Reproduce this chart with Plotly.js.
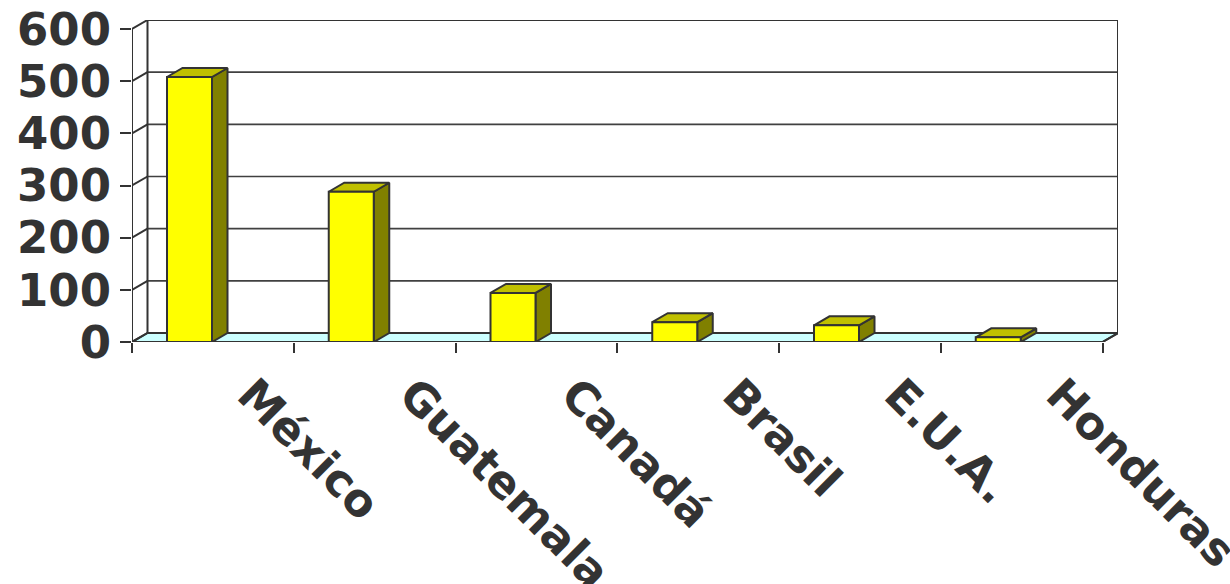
<!DOCTYPE html>
<html>
<head>
<meta charset="utf-8">
<script src="https://cdn.plot.ly/plotly-3.0.1.min.js"></script>
<style>
  html, body { margin: 0; padding: 0; background: #ffffff; }
  #chart { width: 1230px; height: 584px; }
</style>
</head>
<body>
<div id="chart"></div>
<script>
// ---- data ----
const categories = ['México', 'Guatemala', 'Canadá', 'Brasil', 'E.U.A.', 'Honduras'];
const values = [508, 288, 94, 38, 32, 9];
const yTickValues = [0, 100, 200, 300, 400, 500, 600];
const yTickLabels = ['0', '100', '200', '300', '400', '500', '600'];

// ---- layout geometry (pixels) ----
const WIDTH = 1230, HEIGHT = 584;
const MARGIN = { l: 132, r: 112, t: 20, b: 242 };
const DEPTH_PX = { x: 15.5, y: 9 };      // 3-D depth offset
const BAR_OFFSET_PX = 35, BAR_WIDTH_PX = 45;
const Y_MAX = yTickValues[yTickValues.length - 1];

const plotW = WIDTH - MARGIN.l - MARGIN.r;
const plotH = HEIGHT - MARGIN.t - MARGIN.b;
const nCat = categories.length;
const pxPerX = (plotW - DEPTH_PX.x) / nCat;
const pxPerY = (plotH - DEPTH_PX.y) / Y_MAX;
const DX = DEPTH_PX.x / pxPerX;
const DY = DEPTH_PX.y / pxPerY;
const BO = BAR_OFFSET_PX / pxPerX;
const BW = BAR_WIDTH_PX / pxPerX;

const EDGE = '#333333';
const traces = [];

function poly(xs, ys, fill, lineColor, lineWidth) {
  return {
    type: 'scatter', mode: 'lines', x: xs, y: ys,
    fill: fill ? 'toself' : 'none', fillcolor: fill || undefined,
    line: { color: lineColor, width: lineWidth },
    hoverinfo: 'skip', showlegend: false
  };
}

// floor
traces.push(poly([0, nCat, nCat + DX, DX, 0], [0, 0, DY, DY, 0], '#CCFFFF', EDGE, 2));

// back wall gridlines
(function () {
  const xs = [], ys = [];
  yTickValues.slice(1, -1).forEach(v => { xs.push(DX, nCat + DX, null); ys.push(v + DY, v + DY, null); });
  traces.push(poly(xs, ys, null, '#404040', 1.7));
})();

// back wall outline
traces.push(poly([DX, DX, nCat + DX, nCat + DX], [DY, Y_MAX + DY, Y_MAX + DY, DY], null, EDGE, 2));

// side wall: front axis and diagonals
(function () {
  const xs = [0, 0, null], ys = [0, Y_MAX, null];
  yTickValues.forEach(v => { xs.push(0, DX, null); ys.push(v, v + DY, null); });
  xs.push(nCat, nCat + DX, null); ys.push(0, DY, null);
  traces.push(poly(xs, ys, null, EDGE, 2));
})();

// bars: side, top, front
(function () {
  const sx = [], sy = [], tx = [], ty = [], fx = [], fy = [];
  values.forEach((v, i) => {
    const x0 = i + BO, x1 = i + BO + BW;
    sx.push(x1, x1 + DX, x1 + DX, x1, x1, null); sy.push(0, DY, v + DY, v, 0, null);
    tx.push(x0, x1, x1 + DX, x0 + DX, x0, null); ty.push(v, v, v + DY, v + DY, v, null);
    fx.push(x0, x1, x1, x0, x0, null); fy.push(0, 0, v, v, 0, null);
  });
  traces.push(poly(sx, sy, '#808000', EDGE, 2));
  traces.push(poly(tx, ty, '#C0C000', EDGE, 2));
  traces.push(poly(fx, fy, '#FFFF00', EDGE, 2));
})();

const tickFont = { family: 'DejaVu Sans', size: 45, color: '#333333', weight: 'bold' };

const layout = {
  width: WIDTH, height: HEIGHT,
  margin: MARGIN,
  paper_bgcolor: '#ffffff', plot_bgcolor: 'rgba(0,0,0,0)',
  showlegend: false,
  xaxis: {
    range: [0, nCat + DX], fixedrange: true,
    tickmode: 'array',
    tickvals: categories.map((c, i) => i + 0.5),
    ticktext: categories,
    tickangle: 45, ticks: '',
    ticklabelshift: 38, ticklabelstandoff: 16,
    ticklabeloverflow: 'allow',
    minor: { tickmode: 'array', tickvals: categories.map((c, i) => i).concat([nCat]), ticks: 'outside', ticklen: 10, tickwidth: 2, tickcolor: EDGE, showgrid: false },
    showgrid: false, zeroline: false, showline: false,
    tickfont: tickFont
  },
  yaxis: {
    range: [0, Y_MAX + DY], fixedrange: true,
    tickmode: 'array', tickvals: yTickValues, ticktext: yTickLabels,
    ticks: 'outside', ticklen: 11, tickwidth: 2, tickcolor: EDGE,
    showgrid: false, zeroline: false, showline: false,
    tickfont: tickFont
  }
};

Plotly.newPlot('chart', traces, layout, { staticPlot: true, displayModeBar: false });
</script>
</body>
</html>
